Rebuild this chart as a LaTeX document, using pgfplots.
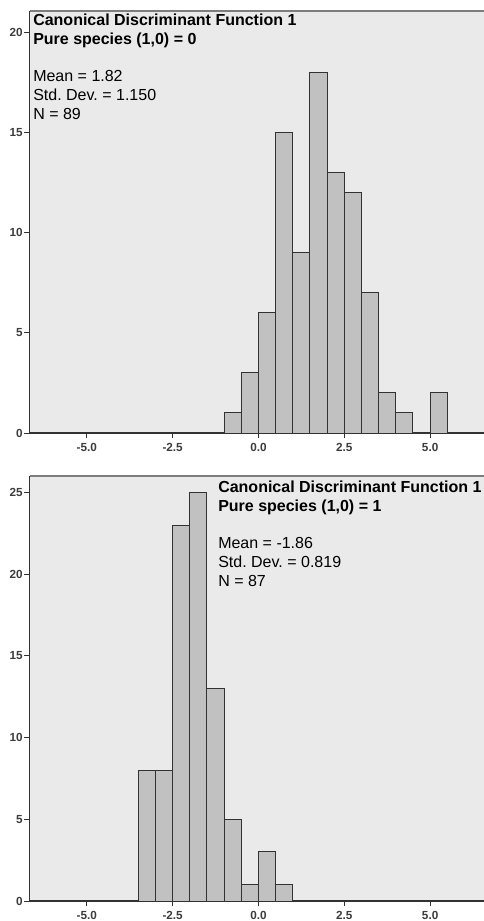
\documentclass[border=0pt]{standalone}
\usepackage{pgfplots}
\pgfplotsset{compat=1.18}
\usepackage{fontspec}
\setmainfont{Liberation Sans}
\frenchspacing

\definecolor{panel}{RGB}{234,234,234}
\definecolor{barfill}{RGB}{193,193,193}
\definecolor{baredge}{RGB}{50,50,50}
\definecolor{ticktext}{RGB}{60,60,60}
\definecolor{frametop}{RGB}{125,125,125}

% 1 px of the reference = 0.75pt
\pgfplotsset{
  spsshist/.style={
    scale only axis, width=344.25pt,
    xmin=-6.67, xmax=6.7, ymin=0,
    axis lines*=left,
    axis line style={draw=baredge, line width=0.9pt},
    axis background/.style={fill=panel},
    xtick={-5,-2.5,0,2.5,5},
    xticklabels={-5.0,-2.5,0.0,2.5,5.0},
    tick align=outside, major tick length=4pt,
    tick style={draw=baredge, line width=0.75pt},
    tick label style={font=\fontsize{8.8}{10}\selectfont\bfseries, text=ticktext},
    yticklabel style={inner sep=1pt},
    /pgf/number format/assume math mode=true,
    clip=false,
  },
  hbar/.style={ybar interval, fill=barfill, draw=baredge, line width=0.75pt},
}

\begin{document}
\begin{tikzpicture}
\path[use as bounding box] (0,0) rectangle (362.25pt,-690.75pt);

% Pure species = 0
\begin{axis}[spsshist,
  at={(22.125pt,-324.75pt)}, anchor=south west,
  height=316.5pt, ymax=21.06,
  ytick={0,5,10,15,20},
]
\addplot[hbar] coordinates {
  (-1.0,1) (-0.5,3) (0.0,6) (0.5,15) (1.0,9) (1.5,18) (2.0,13)
  (2.5,12) (3.0,7) (3.5,2) (4.0,1) (4.5,0) (5.0,2) (5.5,0)
};
\draw[frametop, line width=1.3pt] (rel axis cs:0,1) -- (rel axis cs:1,1);
\end{axis}

% Pure species = 1
\begin{axis}[spsshist,
  at={(22.125pt,-675.75pt)}, anchor=south west,
  height=318.75pt, ymax=26,
  ytick={0,5,10,15,20,25},
]
\addplot[hbar] coordinates {
  (-3.5,8) (-3.0,8) (-2.5,23) (-2.0,25) (-1.5,13) (-1.0,5)
  (-0.5,1) (0.0,3) (0.5,1) (1.0,0)
};
\draw[frametop, line width=1.3pt] (rel axis cs:0,1) -- (rel axis cs:1,1);
\end{axis}

\node[anchor=north west, align=left, inner sep=0pt,
  font=\fontsize{12}{14}\selectfont] at (24.75pt,-10.5pt)
  {\textbf{Canonical Discriminant Function 1}\\
   \textbf{Pure species (1,0) = 0}\\[14pt]
   Mean = 1.82\\
   Std. Dev. = 1.150\\
   N = 89};

\node[anchor=north west, align=left, inner sep=0pt,
  font=\fontsize{12}{14}\selectfont] at (163.5pt,-360.75pt)
  {\textbf{Canonical Discriminant Function 1}\\
   \textbf{Pure species (1,0) = 1}\\[14pt]
   Mean = -1.86\\
   Std. Dev. = 0.819\\
   N = 87};
\end{tikzpicture}
\end{document}
